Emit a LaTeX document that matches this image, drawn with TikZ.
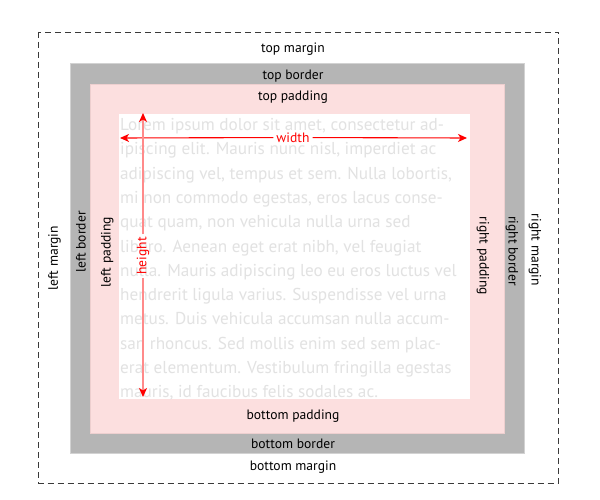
\documentclass[tikz,border=0pt]{standalone}
\usepackage{fontspec}
\setmainfont{PT Sans}
\usetikzlibrary{arrows.meta}
\definecolor{bordergray}{HTML}{B5B5B5}
\definecolor{borderedge}{HTML}{D2D2D2}
\definecolor{padpink}{HTML}{FCDFDF}
\definecolor{padedge}{HTML}{EDCFCF}
\definecolor{loremgray}{HTML}{E2E2E2}
\definecolor{dashgray}{HTML}{3A3A3A}
\definecolor{dimred}{HTML}{FF0000}
\definecolor{dimlight}{HTML}{FF8A8A}
\begin{document}
\begin{tikzpicture}[x=1pt,y=-1pt,
  lbl/.style={font=\fontsize{13.6}{15}\selectfont, text=black, inner sep=0pt, anchor=base},
  lorem/.style={font=\fontsize{17.2}{20}\selectfont, text=loremgray, anchor=base west, inner sep=0pt},
  dimlabel/.style={font=\fontsize{13.6}{15}\selectfont, text=dimred, inner xsep=3pt, inner ysep=1pt},
  tip/.style={-{Stealth[length=9pt,width=8pt,inset=2.5pt,color=dimred]}},
  widthline/.style={tip, draw=dimred, line width=1.1pt},
  heightline/.style={tip, draw=dimlight, line width=1.5pt},
  marginline/.style={draw=dashgray, line width=0.9pt, dash pattern=on 6pt off 4pt}]
\useasboundingbox[fill=white] (0,0) rectangle (600,500);
% boxes
\draw[marginline] (38.5,32) rectangle (558.5,483);
\draw[fill=bordergray, draw=borderedge, line width=1pt] (70,64) rectangle (524,453);
\draw[fill=padpink, draw=padedge, line width=0.8pt] (90,84) rectangle (504,433);
\fill[white] (119,114) rectangle (470,399);
% lorem text
\node[lorem] (l1)  at (120,130.5) {Lorem ipsum dolor sit amet, consectetur ad-};
\node[lorem] (l2)  at (120,154.8) {ipiscing elit. Mauris nunc nisl, imperdiet ac};
\node[lorem] (l3)  at (120,179.1) {adipiscing vel, tempus et sem. Nulla lobortis,};
\node[lorem] (l4)  at (120,203.4) {mi non commodo egestas, eros lacus conse-};
\node[lorem] (l5)  at (120,227.7) {quat quam, non vehicula nulla urna sed};
\node[lorem] (l6)  at (120,252.0) {libero. Aenean eget erat nibh, vel feugiat};
\node[lorem] (l7)  at (120,276.3) {nulla. Mauris adipiscing leo eu eros luctus vel};
\node[lorem] (l8)  at (120,300.6) {hendrerit ligula varius. Suspendisse vel urna};
\node[lorem] (l9)  at (120,324.9) {metus. Duis vehicula accumsan nulla accum-};
\node[lorem] (l10) at (120,349.2) {san rhoncus. Sed mollis enim sed sem plac-};
\node[lorem] (l11) at (120,373.5) {erat elementum. Vestibulum fringilla egestas};
\node[lorem] (l12) at (120,397.8) {mauris, id faucibus felis sodales ac.};
% labels
\node[lbl] (tm) at (293,52.3) {top margin};
\node[lbl] (tb) at (293,79.3) {top border};
\node[lbl] (tp) at (293,100.7) {top padding};
\node[lbl] (bp) at (293,419) {bottom padding};
\node[lbl] (bb) at (293,448.3) {bottom border};
\node[lbl] (bm) at (293,470.7) {bottom margin};
\node[lbl, rotate=90] (lm) at (57.8,258) {left margin};
\node[lbl, rotate=90] (lb) at (85.5,242) {left border};
\node[lbl, rotate=90] (lp) at (110.5,252) {left padding};
\node[lbl, rotate=-90] (rp) at (479.5,256) {right padding};
\node[lbl, rotate=-90] (rb) at (508.5,251) {right border};
\node[lbl, rotate=-90] (rm) at (531.5,250) {right margin};
% dimensions
\coordinate (wl) at (120,138);
\coordinate (wr) at (467,138);
\node[dimlabel, fill=white] (wlab) at (293,137.5) {width};
\draw[widthline] (wlab) -- (wl);
\draw[widthline] (wlab) -- (wr);
\coordinate (ht) at (143,113);
\coordinate (hb) at (143,397);
\node[dimlabel, rotate=90] (hlab) at (143,256) {height};
\draw[heightline] (hlab) -- (ht);
\draw[heightline] (hlab) -- (hb);
\end{tikzpicture}
\end{document}
